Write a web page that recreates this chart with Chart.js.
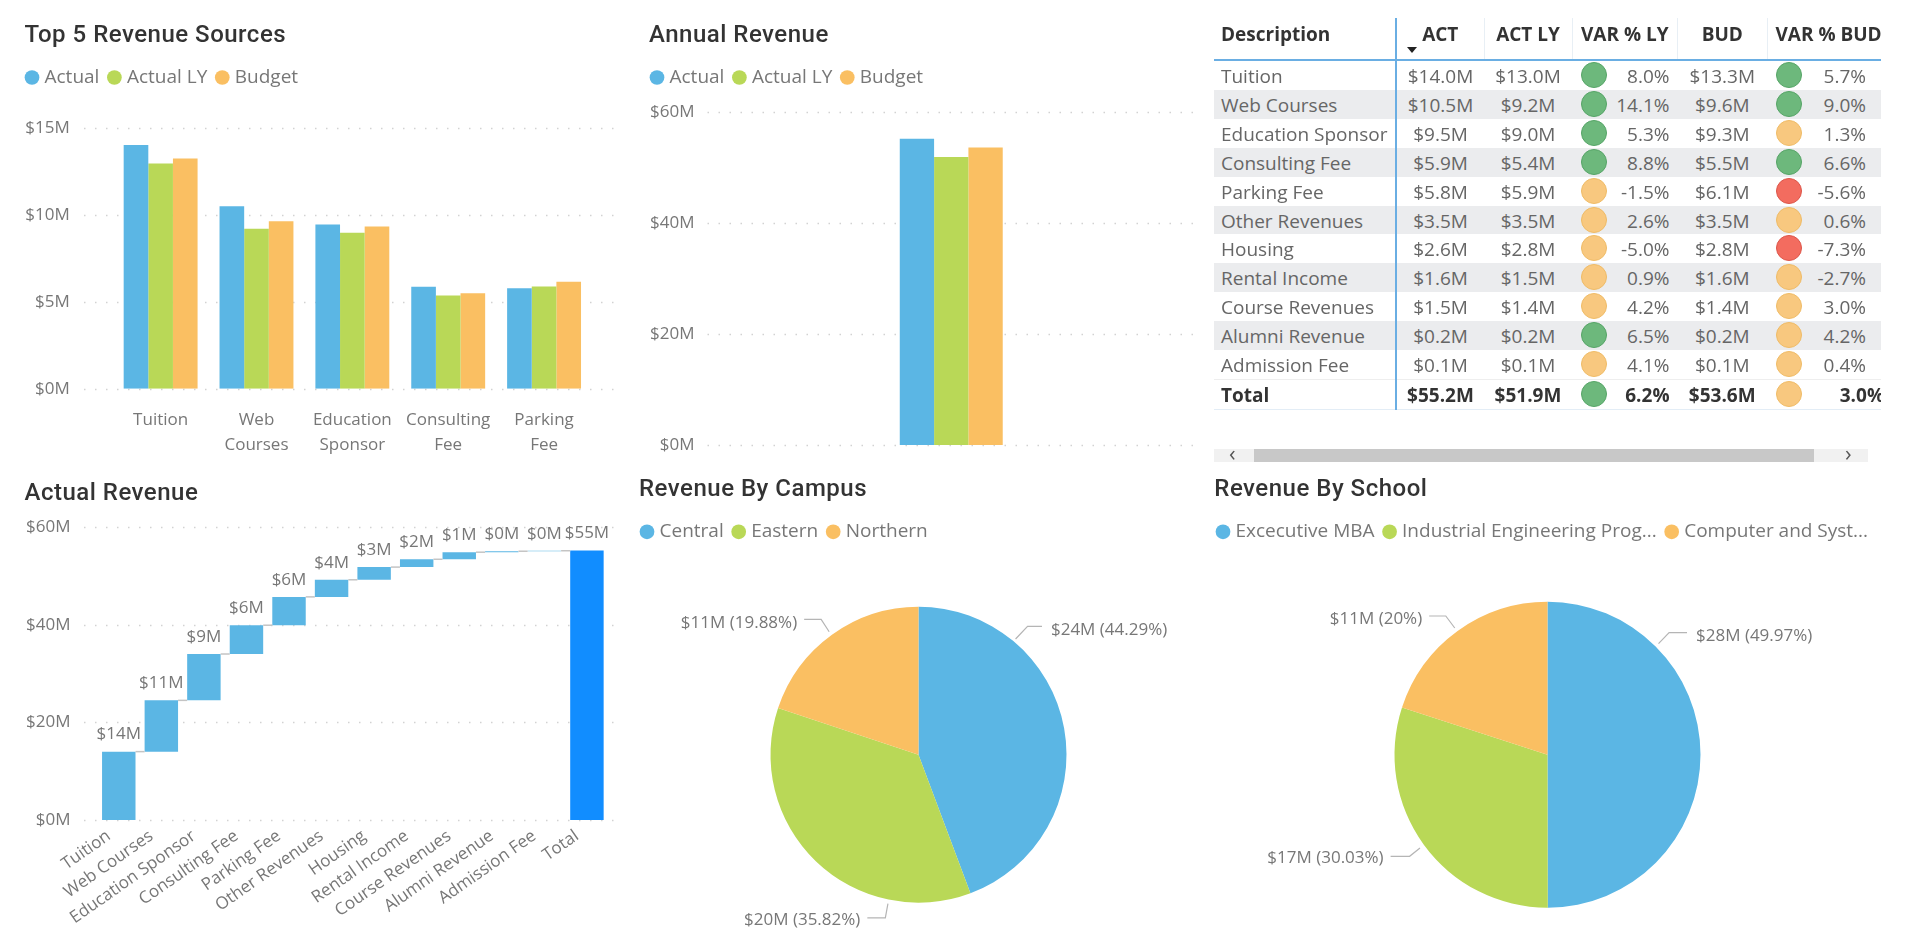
<!DOCTYPE html>
<html><head><meta charset="utf-8">
<script src="https://cdn.jsdelivr.net/npm/chart.js@4"></script>
<style>
html,body{margin:0;padding:0;background:#fff;width:1920px;height:951px;overflow:hidden}
canvas{position:absolute}
#tbl{position:absolute;left:1214px;top:18px;width:667px;height:392px;overflow:hidden;font:19px "Open Sans",sans-serif;color:#666}
#tbl table{border-collapse:collapse;table-layout:fixed;width:671px}
#tbl th{height:42px;padding:0 0 10px 0;font-weight:700;color:#333;font-size:19px;text-align:center;box-sizing:border-box;border-right:1px solid #e8eff5;white-space:nowrap;position:relative;border-bottom:2px solid #6aaee3}
#tbl td{height:28.9px;padding:3px 0 0 0;text-align:center;white-space:nowrap;box-sizing:border-box;position:relative;line-height:25.9px}
#tbl tr.s td{background:#ebecee}
#tbl td.d,#tbl th.d{text-align:left;padding-left:7px;border-right:2px solid #6aaee3}
#tbl td.v{text-align:right;padding-right:8px}
#tbl td.b{text-align:right;padding-right:19px}
#tbl tr.t td{font-weight:700;color:#333;border-top:1px solid #eee;border-bottom:1px solid #e3edf6}
#tbl tr.t td.b{padding-right:1px}
#tbl th.h{text-align:left;padding-left:8px}
.dot{position:absolute;top:1px;width:26px;height:26px;border-radius:50%;box-sizing:border-box;border:1.5px solid}
.g{background:#6db87c;border-color:#55a466}.o{background:#f8c87f;border-color:#efbb66}.r{background:#f36c5f;border-color:#dc5549}
.arrow{position:absolute;top:29px;width:0;height:0;border-left:5.5px solid transparent;border-right:5.5px solid transparent;border-top:6px solid #222}
#sb{position:absolute;left:1214px;top:449px;width:654px;height:13px;background:#f1f1f1;font:22px "Open Sans",sans-serif;color:#555;line-height:11px}
#sb i{position:absolute;left:40px;width:560px;top:0;height:13px;background:#c8c8c8}
#sb span{position:absolute;top:-2px;font-style:normal}
</style></head><body>
<canvas id="c1" width="613" height="470" style="left:17px;top:0"></canvas>
<canvas id="c2" width="578" height="470" style="left:642px;top:0"></canvas>
<canvas id="c3" width="613" height="481" style="left:17px;top:470px"></canvas>
<canvas id="c4" width="575" height="481" style="left:632px;top:470px"></canvas>
<canvas id="c5" width="679" height="481" style="left:1208px;top:470px"></canvas>
<div id="tbl"></div>
<div id="sb"><span style="left:15px">&#8249;</span><i></i><span style="left:631px">&#8250;</span></div>
<script>
const BLUE='#5bb6e4',GREEN='#b9d857',ORANGE='#fabf62',TOTAL='#118dff';
const TXT='#777',TITLE='#333';
const FONT='"Open Sans"';
const TITLEFONT='Roboto';

const seriesNames=['Actual','Actual LY','Budget'];
const topCategories=[['Tuition'],['Web','Courses'],['Education','Sponsor'],['Consulting','Fee'],['Parking','Fee']];
const topActual=[14.02,10.5,9.45,5.86,5.78];
const topActualLY=[12.96,9.2,8.97,5.36,5.88];
const topBudget=[13.25,9.64,9.33,5.49,6.15];

const annualCategory=['Revenue'];
const annualActual=[55.2];
const annualActualLY=[51.9];
const annualBudget=[53.6];

const waterfallCategories=['Tuition','Web Courses','Education Sponsor','Consulting Fee','Parking Fee','Other Revenues','Housing','Rental Income','Course Revenues','Alumni Revenue','Admission Fee','Total'];
const waterfallSteps=[14.0,10.5,9.49,5.9,5.8,3.5,2.6,1.6,1.45,0.2,0.1];
const waterfallTotal=55.2;

const campusLabels=['Central','Eastern','Northern'];
const campusValues=[44.29,35.82,19.88];
const campusMoney=['$24M','$20M','$11M'];
const campusPct=['44.29%','35.82%','19.88%'];

const schoolLabels=['Excecutive MBA','Industrial Engineering Prog...','Computer and Syst...'];
const schoolValues=[49.97,30.03,20];
const schoolMoney=['$28M','$17M','$11M'];
const schoolPct=['49.97%','30.03%','20%'];

const tableHead=['Description','ACT','ACT LY','VAR % LY','BUD','VAR % BUD'];
const tableNames=['Tuition','Web Courses','Education Sponsor','Consulting Fee','Parking Fee','Other Revenues','Housing','Rental Income','Course Revenues','Alumni Revenue','Admission Fee','Total'];
const tableAct=['$14.0M','$10.5M','$9.5M','$5.9M','$5.8M','$3.5M','$2.6M','$1.6M','$1.5M','$0.2M','$0.1M','$55.2M'];
const tableLY=['$13.0M','$9.2M','$9.0M','$5.4M','$5.9M','$3.5M','$2.8M','$1.5M','$1.4M','$0.2M','$0.1M','$51.9M'];
const tableVarLY=['8.0%','14.1%','5.3%','8.8%','-1.5%','2.6%','-5.0%','0.9%','4.2%','6.5%','4.1%','6.2%'];
const tableStatusLY=['g','g','g','g','o','o','o','o','o','g','o','g'];
const tableBud=['$13.3M','$9.6M','$9.3M','$5.5M','$6.1M','$3.5M','$2.8M','$1.6M','$1.4M','$0.2M','$0.1M','$53.6M'];
const tableVarBud=['5.7%','9.0%','1.3%','6.6%','-5.6%','0.6%','-7.3%','-2.7%','3.0%','4.2%','0.4%','3.0%'];
const tableStatusBud=['g','g','o','g','r','o','r','o','o','o','o','o'];

/* ---------- plugins ---------- */
const spacer={id:'spacer',beforeInit(c,_,o){
  Chart.layouts.addBox(c,{position:'top',weight:1,fullSize:true,height:o.h,width:0,options:{},
    isHorizontal(){return true},update(w){this.width=w;this.height=o.h},draw(){}});
}};
const titleShift={id:'titleShift',afterLayout(c,_,o){
  const t=c.titleBlock; if(!t) return;
  t.left+=o.dx;
  if(!t._wrapped){const od=t.draw;t.draw=function(){c.ctx.save();c.ctx.letterSpacing='0.5px';od.call(t);c.ctx.restore();};t._wrapped=true;}
}};
const dotGrid={id:'dotGrid',beforeDatasetsDraw(c,_,o){
  const y=c.scales.y,ctx=c.ctx;ctx.save();ctx.strokeStyle='#d2d2d2';ctx.lineWidth=1.5;ctx.setLineDash([1.5,9.5]);
  y.ticks.forEach(t=>{const p=Math.round(y.getPixelForValue(t.value))+.5;ctx.beginPath();ctx.moveTo(o.from,p);ctx.lineTo(o.to,p);ctx.stroke();});
  ctx.restore();
}};
const waterfallDeco={id:'waterfallDeco',afterDatasetsDraw(c){
  const ctx=c.ctx,meta=c.getDatasetMeta(0),y=c.scales.y,d=c.data.datasets[0].data;
  ctx.save();ctx.strokeStyle='#c4c4c4';ctx.lineWidth=1.5;
  meta.data.forEach((b,i)=>{ if(i<d.length-1){const p=y.getPixelForValue(d[i][1]);const n=meta.data[i+1];
    ctx.beginPath();ctx.moveTo(b.x+b.width/2,p);ctx.lineTo(n.x-n.width/2,p);ctx.stroke();}});
  ctx.fillStyle=TXT;ctx.font='17px '+FONT;ctx.textAlign='center';ctx.textBaseline='middle';
  meta.data.forEach((b,i)=>{const v=d[i][1]-d[i][0];ctx.fillText('$'+Math.round(v)+'M',b.x,y.getPixelForValue(d[i][1])-17);});
  ctx.restore();
}};
const pieLabels={id:'pieLabels',afterDatasetsDraw(c,_,o){
  const ctx=c.ctx,meta=c.getDatasetMeta(0),a0=meta.data[0],cx=a0.x,cy=a0.y;
  ctx.save();ctx.font='17px '+FONT;ctx.textBaseline='middle';
  o.items.forEach((it,i)=>{
    const a=it.a*Math.PI/180,r=a0.outerRadius+it.r;
    const x0=cx+r*Math.sin(a),y0=cy-r*Math.cos(a),x1=x0+it.ex,y1=y0+it.ey,x2=x1+it.stub;
    ctx.strokeStyle='#b5b5b5';ctx.lineWidth=1.2;ctx.beginPath();ctx.moveTo(x0,y0);ctx.lineTo(x1,y1);ctx.lineTo(x2,y1);ctx.stroke();
    ctx.fillStyle=TXT;ctx.textAlign=it.stub>0?'left':'right';
    ctx.fillText(o.money[i]+' ('+o.pct[i]+')',x2+(it.stub>0?9:-7),y1+(it.ty||2));
  });
  ctx.restore();
}};

/* ---------- helpers ---------- */
const titleCfg=(text,top,bottom)=>({display:true,text,align:'start',color:TITLE,font:{family:TITLEFONT,size:24,weight:'500',lineHeight:1.2},padding:{top,bottom}});
const legendCfg=()=>({display:true,position:'top',align:'start',labels:{usePointStyle:true,pointStyle:'circle',boxWidth:6,boxHeight:10.4,padding:12,color:TXT,font:{family:FONT,size:19}}});
const tickFont={family:FONT,size:17};
const yAxis=(width,pad,max,step)=>({min:0,max,grid:{display:false,drawTicks:false},border:{display:false},
  afterFit(s){s.width=width},ticks:{stepSize:step,padding:pad,color:TXT,font:tickFont,callback:v=>'$'+v+'M'}});
const base={responsive:false,animation:false,layout:{autoPadding:false}};
const barDs=(a,b,c)=>[[seriesNames[0],a,BLUE],[seriesNames[1],b,GREEN],[seriesNames[2],c,ORANGE]].map(([label,data,backgroundColor])=>({label,data,backgroundColor,borderWidth:0}));

/* ---------- Top 5 ---------- */
new Chart(document.getElementById('c1'),{type:'bar',
  data:{labels:topCategories,datasets:barDs(topActual,topActualLY,topBudget)},
  options:{...base,layout:{autoPadding:false,padding:{right:38}},
    datasets:{bar:{categoryPercentage:0.771,barPercentage:1}},
    scales:{y:yAxis(95.7,43,15,5),
      x:{grid:{display:false,drawTicks:false},border:{display:false},afterFit(s){s.height=81.3},
        ticks:{padding:19,color:TXT,font:{...tickFont,lineHeight:1.45},maxRotation:0,autoSkip:false}}},
    plugins:{title:titleCfg('Top 5 Revenue Sources',21.1,6.1),legend:legendCfg(),tooltip:{enabled:false},
      spacer:{h:31},titleShift:{dx:7.5},dotGrid:{from:67,to:603}}},
  plugins:[spacer,titleShift,dotGrid]});

/* ---------- Annual ---------- */
new Chart(document.getElementById('c2'),{type:'bar',
  data:{labels:annualCategory,datasets:barDs(annualActual,annualActualLY,annualBudget)},
  options:{...base,layout:{autoPadding:false,padding:{right:21}},
    datasets:{bar:{categoryPercentage:0.2078,barPercentage:1}},
    scales:{y:yAxis(61.5,9,60,20),
      x:{grid:{display:false,drawTicks:false},border:{display:false},afterFit(s){s.height=25},ticks:{display:false}}},
    plugins:{title:titleCfg('Annual Revenue',21.1,6.1),legend:legendCfg(),tooltip:{enabled:false},
      spacer:{h:15},titleShift:{dx:7},dotGrid:{from:65.5,to:557}}},
  plugins:[spacer,titleShift,dotGrid]});

/* ---------- Waterfall ---------- */
let running=0;
const waterfallBars=waterfallSteps.map(v=>{const r=[running,running+v];running+=v;return r;});
waterfallBars.push([0,waterfallTotal]);
new Chart(document.getElementById('c3'),{type:'bar',
  data:{labels:waterfallCategories,datasets:[{label:'Actual',data:waterfallBars,borderWidth:0,borderSkipped:false,
    backgroundColor:waterfallCategories.map((_,i)=>i===waterfallCategories.length-1?TOTAL:BLUE)}]},
  options:{...base,layout:{autoPadding:false,padding:{right:21.8}},
    datasets:{bar:{categoryPercentage:0.786,barPercentage:1}},
    scales:{y:yAxis(80.5,27,60,20),
      x:{grid:{display:false,drawTicks:false},border:{display:false},afterFit(s){s.height=131},
        ticks:{padding:6,labelOffset:-10,color:TXT,font:tickFont,minRotation:35,maxRotation:35,autoSkip:false}}},
    plugins:{title:titleCfg('Actual Revenue',9.1,0),legend:{display:false},tooltip:{enabled:false},
      spacer:{h:19.1},titleShift:{dx:7.5},dotGrid:{from:67,to:603}}},
  plugins:[spacer,titleShift,dotGrid,waterfallDeco]});

/* ---------- Pies ---------- */
const pie=(id,labels,values,money,pct,dx,sp,bottom,right,items,title)=>new Chart(document.getElementById(id),{type:'pie',
  data:{labels,datasets:[{data:values,backgroundColor:[BLUE,GREEN,ORANGE],borderWidth:0,hoverOffset:0}]},
  options:{...base,layout:{autoPadding:false,padding:{bottom,right}},
    plugins:{title:titleCfg(title,5.4,6.1),legend:legendCfg(),tooltip:{enabled:false},
      spacer:{h:sp},titleShift:{dx},pieLabels:{money,pct,items}}},
  plugins:[spacer,titleShift,pieLabels]});
pie('c4',campusLabels,campusValues,campusMoney,campusPct,7,55.4,48.3,2,[
  {a:40,r:3,ex:12,ey:-12.6,stub:14.4,ty:3.5},
  {a:191.6,r:4,ex:-2.6,ey:14.3,stub:-18},
  {a:-36,r:4,ex:-8,ey:-12.3,stub:-17,ty:3.5}],'Revenue By Campus');
pie('c5',schoolLabels,schoolValues,schoolMoney,schoolPct,6.3,50.4,43.3,0,[
  {a:45,r:4,ex:10.6,ey:-11,stub:17.9,ty:3.5},
  {a:233.8,r:5,ex:-10.4,ey:8.3,stub:-19},
  {a:-36.2,r:4,ex:-9,ey:-12,stub:-16.6,ty:3.5}],'Revenue By School');

/* ---------- Table ---------- */
const cols=[182,88,88,105.5,89.5,118];
let h='<table><colgroup>'+cols.map(w=>'<col style="width:'+w+'px">').join('')+'</colgroup><thead><tr>';
tableHead.forEach((t,i)=>{h+='<th class="'+(i===0?'d':i===5?'h':'')+'">'+t+(i===1?'<div class="arrow" style="left:10px"></div>':'')+'</th>';});
h+='</tr></thead><tbody>';
tableNames.forEach((n,i)=>{
  const cls=(i===tableNames.length-1)?'t':(i%2?'s':'');
  h+='<tr class="'+cls+'"><td class="d">'+n+'</td><td>'+tableAct[i]+'</td><td>'+tableLY[i]+'</td>'
   +'<td class="v"><span class="dot '+tableStatusLY[i]+'" style="left:9px"></span>'+tableVarLY[i]+'</td>'
   +'<td>'+tableBud[i]+'</td>'
   +'<td class="b"><span class="dot '+tableStatusBud[i]+'" style="left:8.5px"></span>'+tableVarBud[i]+'</td></tr>';
});
h+='</tbody></table>';
document.getElementById('tbl').innerHTML=h;
</script>
</body></html>
